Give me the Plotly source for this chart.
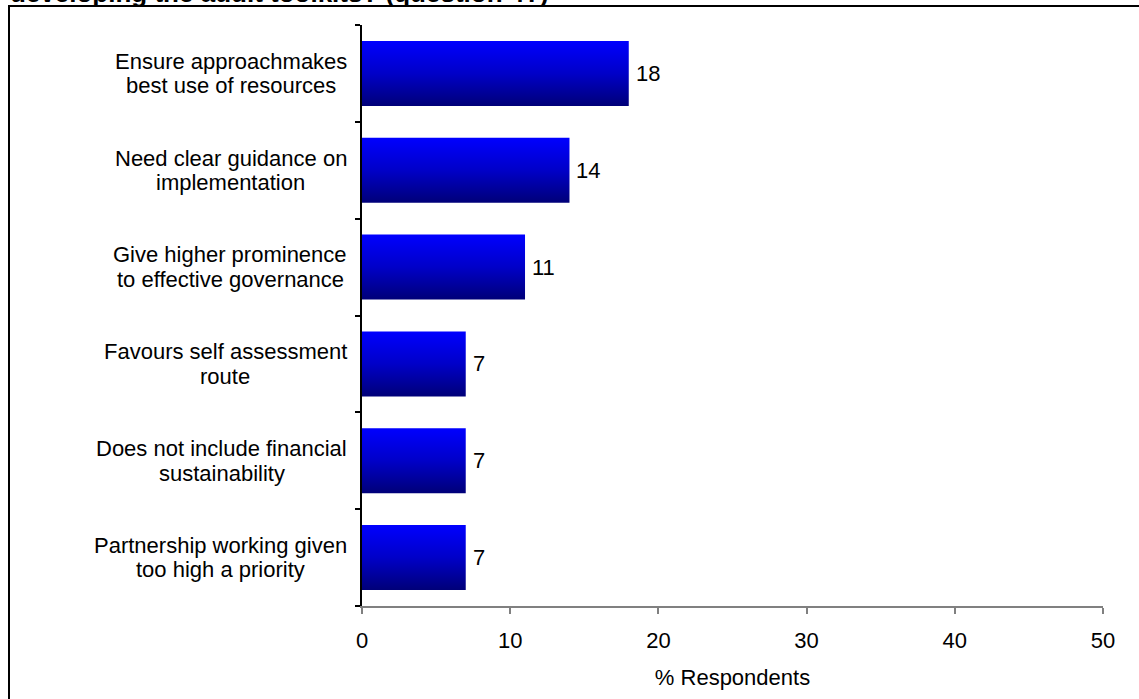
import plotly.graph_objects as go

# Survey responses: issues raised about the audit toolkit
categories = [
    "Ensure approachmakes<br>best use of resources",
    "Need clear guidance on<br>implementation",
    "Give higher prominence<br>to effective governance",
    "Favours self assessment<br>route",
    "Does not include financial<br>sustainability",
    "Partnership working given<br>too high a priority",
]
values = [18, 14, 11, 7, 7, 7]
x_ticks = [0, 10, 20, 30, 40, 50]
x_title = "% Respondents"
title_text = "developing the audit toolkits? (question 4?)"

FONT = "Arial, Liberation Sans, sans-serif"
FS = 22
W, H = 1139, 699
ML, MR, MT, MB = 362, 36, 25, 93
plot_w = W - ML - MR
plot_h = H - MT - MB

# Arial advance widths (1/1000 em) for laying out centred label blocks
ARIAL_W = dict(
    a=556, b=556, c=500, d=556, e=556, f=278, g=556, h=556, i=222, j=222, k=500,
    l=222, m=833, n=556, o=556, p=556, q=556, r=333, s=500, t=278, u=556, v=500,
    w=722, x=500, y=500, z=500, E=667, N=722, G=778, F=611, D=722, P=667,
)
ARIAL_W[" "] = 278


def text_width(s, size):
    return sum(ARIAL_W.get(ch, 556) for ch in s) * size / 1000.0


n = len(categories)
positions = [n - 1 - i for i in range(n)]  # first category at the top
half = 0.336  # half bar thickness in category units

fig = go.Figure()

# Bars as filled polygons so each can carry a top-to-bottom gradient
for v, p in zip(values, positions):
    fig.add_trace(go.Scatter(
        x=[0, v, v, 0, 0],
        y=[p - half, p - half, p + half, p + half, p - half],
        mode="lines",
        fill="toself",
        line=dict(width=0, color="rgba(0,0,0,0)"),
        fillgradient=dict(type="vertical",
                          colorscale=[[0, "#000078"], [0.5, "#0000c8"], [1, "#0000ff"]]),
        hoverinfo="skip",
        showlegend=False,
    ))

annotations = []
# Value labels at the bar ends
for v, p in zip(values, positions):
    annotations.append(dict(
        x=v, y=p, xref="x", yref="y", text=str(v), showarrow=False,
        xanchor="left", yanchor="middle", xshift=5,
        font=dict(family=FONT, size=FS, color="black"),
    ))

# Category labels: blocks right-aligned to the axis, lines centred in each block
LINE_GAP = 24.5
LABEL_RIGHT_PX = 347
for c, p in zip(categories, positions):
    lines = c.split("<br>")
    k = len(lines)
    block_w = max(text_width(s, FS) for s in lines)
    centre_px = LABEL_RIGHT_PX - block_w / 2
    for j, line in enumerate(lines):
        annotations.append(dict(
            x=(centre_px - ML) / plot_w, y=p, xref="paper", yref="y",
            text=line, showarrow=False,
            xanchor="center", yanchor="middle",
            yshift=((k - 1) / 2 - j) * LINE_GAP,
            font=dict(family=FONT, size=FS, color="black"),
        ))

# Heading, partly above the visible page
annotations.append(dict(
    x=(8 - ML) / plot_w, y=(H - MB + 7) / plot_h, xref="paper", yref="paper",
    text="<b>" + title_text + "</b>", showarrow=False,
    xanchor="left", yanchor="middle",
    font=dict(family=FONT, size=26, color="black"),
))

fig.update_layout(
    width=W, height=H,
    margin=dict(l=ML, r=MR, t=MT, b=MB, pad=0),
    paper_bgcolor="white", plot_bgcolor="white",
    font=dict(family=FONT, size=FS, color="black"),
    annotations=annotations,
    shapes=[dict(
        type="rect", xref="paper", yref="paper",
        x0=(9 - ML) / plot_w, x1=(W + 10 - ML) / plot_w,
        y0=(H - MB - (H + 10)) / plot_h, y1=(H - MB - 6) / plot_h,
        line=dict(color="black", width=2), fillcolor="rgba(0,0,0,0)", layer="above",
    )],
    xaxis=dict(
        range=[0, 50], tickvals=x_ticks, ticks="outside", ticklen=6,
        tickcolor="#808080", tickwidth=1.5,
        showline=True, linecolor="#808080", linewidth=1.5,
        showgrid=False, zeroline=False,
        ticklabelstandoff=8,
        tickfont=dict(family=FONT, size=FS, color="black"),
        title=dict(text=x_title, font=dict(family=FONT, size=FS, color="black"), standoff=17),
    ),
    yaxis=dict(
        range=[-0.5, n - 0.5], showticklabels=False, ticks="",
        showline=True, linecolor="black", linewidth=2,
        showgrid=False, zeroline=False,
        minor=dict(tickmode="array", tickvals=[k - 0.5 for k in range(n + 1)],
                   ticks="outside", ticklen=5, tickcolor="black", tickwidth=1.5),
    ),
)

fig.write_html("out.html")
